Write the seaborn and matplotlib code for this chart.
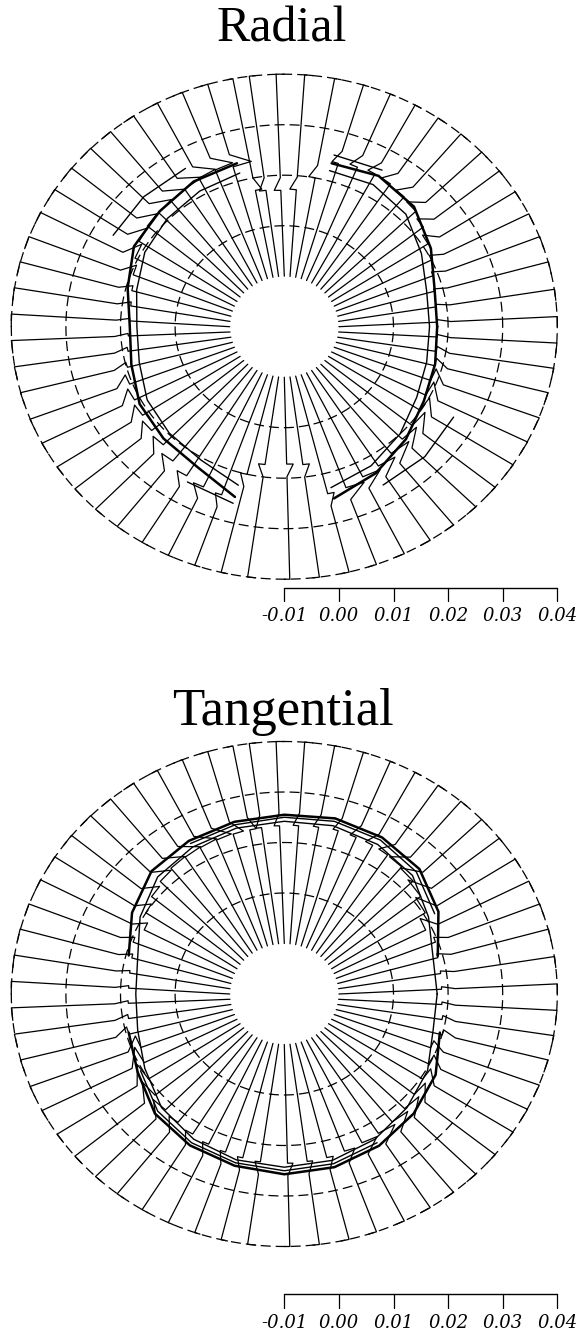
import numpy as np
import pandas as pd
import matplotlib
matplotlib.use("Agg")
import matplotlib.pyplot as plt
import seaborn as sns

sns.set_theme(style="white")
plt.rcParams["font.family"] = ["Liberation Serif", "DejaVu Serif"]
plt.rcParams["text.color"] = "black"

# ---------------- data ----------------
# one measuring line every 6 degrees, counter-clockwise from 3 o'clock
SPOKE_DEG = list(range(0, 360, 6))
RING_STRAIN = [0.01, 0.02, 0.03, 0.04]          # dashed reference circles
SPOKE_FROM, SPOKE_TO = 0.00, 0.04                # radial extent of each line
SCALE_TICKS = [-0.01, 0.00, 0.01, 0.02, 0.03, 0.04]
SCALE_LABELS = ["-0.01", "0.00", "0.01", "0.02", "0.03", "0.04"]
ARC_DEG = list(range(0, 361, 15))

# Radial strain: radius of the step on each line, step size and lean (x1e-3)
RAD_STEP_R = [0.0180, 0.0181, 0.0183, 0.0190, 0.0200, 0.0210, 0.0222, 0.0232, 0.0238, 0.0243,
              0.0245, 0.0243, 0.0238, 0.0200, 0.0172, 0.0170, 0.0172, 0.0175, 0.0230, 0.0235,
              0.0233, 0.0228, 0.0224, 0.0222, 0.0220, 0.0215, 0.0205, 0.0195, 0.0188, 0.0184,
              0.0183, 0.0186, 0.0190, 0.0198, 0.0205, 0.0210, 0.0213, 0.0218, 0.0222, 0.0235,
              0.0245, 0.0250, 0.0252, 0.0200, 0.0175, 0.0172, 0.0175, 0.0240, 0.0238, 0.0230,
              0.0225, 0.0218, 0.0210, 0.0205, 0.0198, 0.0192, 0.0188, 0.0185, 0.0182, 0.0180]
RAD_STEP = [0.5, 0.5, 0.5, 0.8, 1.0, 2.0, 2.0, 2.5, 2.0, 2.0,
            1.5, 1.5, 1.2, 1.2, 1.2, 1.2, 1.2, 1.2, 3.5, 3.5,
            3.5, 4.0, 3.5, 3.5, 3.0, 3.0, 3.0, 2.0, 1.0, 0.8,
            0.5, 0.5, 0.8, 1.0, 2.0, 2.5, 2.5, 2.5, 2.5, 2.5,
            2.0, 2.0, 1.2, 1.2, 1.2, 1.2, 1.2, 1.2, 3.5, 3.5,
            3.5, 4.0, 3.5, 3.5, 3.0, 3.0, 2.5, 1.5, 1.0, 0.5]
RAD_LEAN = [2.0, 2.2, 2.5, 2.5, 2.2, 2.0, 1.8, 1.5, 1.5, 1.5,
            1.2, 1.0, 1.0, 1.2, 1.5, 1.5, 1.2, -1.0, -1.5, -1.8,
            -2.0, -2.2, -2.2, -2.5, -2.5, -2.5, -2.5, -2.5, -2.5, -2.5,
            -2.5, -2.5, -2.5, -2.5, -2.2, -2.2, -2.0, -1.8, -1.5, -1.5,
            -1.2, -1.0, -1.0, -1.2, -1.5, 1.0, 1.2, 1.5, 1.5, 1.8,
            2.0, 2.0, 2.2, 2.2, 2.5, 2.5, 2.5, 2.5, 2.2, 2.0]
RAD_ARC_A = [0.0180, 0.0185, 0.0210, 0.0236, 0.0245, 0.0235, np.nan, 0.0235, 0.0232, 0.0223,
             0.0218, 0.0197, 0.0183, 0.0190, 0.0206, 0.0213, 0.0220, 0.0249, np.nan, 0.0252,
             0.0235, 0.0215, 0.0195, 0.0186, 0.0180]
RAD_ARC_B = [0.0166, 0.0170, 0.0190, 0.0215, 0.0225, 0.0220, np.nan, 0.0215, 0.0210, 0.0203,
             0.0195, 0.0180, 0.0170, 0.0175, 0.0190, 0.0198, 0.0205, 0.0225, np.nan, 0.0230,
             0.0218, 0.0200, 0.0180, 0.0170, 0.0166]
RAD_ARC_C = [np.nan, np.nan, np.nan, np.nan, 0.0258, 0.0252, np.nan, np.nan, 0.0262, 0.0264,
             0.0262, np.nan, np.nan, np.nan, np.nan, np.nan, 0.0255, 0.0262, np.nan, np.nan,
             0.0262, 0.0264, 0.0258, np.nan, np.nan]

# Tangential strain
TAN_STEP_R = [0.0188, 0.0189, 0.0190, 0.0195, 0.0188, 0.0204, 0.0216, 0.0225, 0.0231, 0.0234,
              0.0236, 0.0237, 0.0238, 0.0236, 0.0234, 0.0233, 0.0232, 0.0231, 0.0230, 0.0229,
              0.0228, 0.0226, 0.0224, 0.0218, 0.0210, 0.0200, 0.0186, 0.0195, 0.0188, 0.0186,
              0.0185, 0.0186, 0.0189, 0.0195, 0.0183, 0.0190, 0.0200, 0.0210, 0.0216, 0.0220,
              0.0224, 0.0228, 0.0231, 0.0233, 0.0235, 0.0235, 0.0234, 0.0233, 0.0230, 0.0227,
              0.0225, 0.0221, 0.0216, 0.0210, 0.0204, 0.0198, 0.0188, 0.0200, 0.0193, 0.0189]
TAN_STEP = [0.5, 0.5, 0.8, 1.0, 2.5, 3.5, 4.0, 3.5, 3.0, 2.0,
            1.5, 1.2, 1.0, 1.0, 1.0, 1.0, 1.0, 1.2, 2.0, 3.0,
            3.5, 3.5, 3.5, 3.0, 2.5, 2.0, 1.5, 1.0, 0.8, 0.5,
            0.5, 0.5, 0.8, 1.5, 2.5, 3.5, 3.5, 3.5, 3.0, 2.0,
            1.5, 1.2, 1.0, 1.0, 1.0, 1.0, 1.0, 1.2, 2.0, 3.0,
            3.5, 3.5, 3.5, 3.0, 2.5, 2.0, 1.5, 1.0, 0.8, 0.5]
TAN_LEAN = [2.0, 2.2, 2.5, 2.5, 2.2, 2.0, 1.8, 1.5, 1.5, 1.5,
            1.2, 1.0, 1.0, 1.2, 1.5, 1.5, 1.2, -1.0, -1.5, -1.8,
            -2.0, -2.2, -2.2, -2.5, -2.5, -2.5, -2.5, -2.5, -2.5, -2.5,
            -2.5, -2.5, -2.5, -2.5, -2.2, -2.2, -2.0, -1.8, -1.5, -1.5,
            -1.2, -1.0, -1.0, -1.2, -1.5, 1.0, 1.2, 1.5, 1.5, 1.8,
            2.0, 2.0, 2.2, 2.2, 2.5, 2.5, 2.5, 2.5, 2.2, 2.0]
TAN_ARC_A = [np.nan, 0.0191, 0.0226, 0.0250, 0.0258, 0.0260, 0.0255, 0.0253, 0.0250, 0.0244,
             0.0222, 0.0195, np.nan, 0.0195, 0.0210, 0.0235, 0.0246, 0.0252, 0.0257, 0.0255,
             0.0247, 0.0235, 0.0220, 0.0195, np.nan]
TAN_ARC_B = [0.0180, 0.0182, 0.0205, 0.0232, 0.0242, 0.0245, 0.0242, 0.0240, 0.0236, 0.0228,
             0.0205, 0.0178, 0.0172, 0.0178, 0.0195, 0.0218, 0.0232, 0.0240, 0.0243, 0.0241,
             0.0232, 0.0218, 0.0203, 0.0182, 0.0180]
TAN_ARC_C = [np.nan, np.nan, 0.0218, 0.0242, 0.0252, 0.0254, 0.0250, 0.0247, 0.0244, np.nan,
             np.nan, np.nan, np.nan, np.nan, 0.0204, 0.0228, 0.0240, 0.0246, 0.0250, 0.0248,
             0.0240, np.nan, np.nan, np.nan, np.nan]

# ---------------- geometry helpers ----------------
W, H, DPI = 579, 1342, 100
PX_X, PX_Y = 5460.0, 5050.0      # pixels per strain unit (horizontal / vertical)
CENTRE = -0.01                    # strain value at the rosette centre


def to_xy(strain, tang, deg):
    """Polar (strain radius, tangential offset) -> axes data coordinates."""
    th = np.deg2rad(deg)
    rr = np.asarray(strain) - CENTRE
    tt = np.asarray(tang)
    return rr * np.cos(th) - tt * np.sin(th), rr * np.sin(th) + tt * np.cos(th)


def spoke_frame(step_r, step, lean):
    rows = []
    span = SPOKE_TO - SPOKE_FROM
    for k, deg in enumerate(SPOKE_DEG):
        sr, st, ln = step_r[k], step[k] * 1e-3, lean[k] * 1e-3
        sgn = 1.0 if ln >= 0 else -1.0
        r = [SPOKE_FROM, sr, sr, sr + 0.0025, SPOKE_TO, SPOKE_TO]
        t = [0.0, ln * (sr - SPOKE_FROM) / span, ln * (sr - SPOKE_FROM) / span + sgn * st,
             ln * (sr + 0.0025 - SPOKE_FROM) / span, ln, 0.0]
        x, y = to_xy(r, t, deg)
        for j in range(len(r)):
            rows.append({"line": k, "order": j, "x": x[j], "y": y[j]})
    return pd.DataFrame(rows)


def draw_arc(ax, vals, lw):
    vals = np.array(vals, dtype=float)
    x, y = to_xy(vals, np.zeros(len(vals)), np.array(ARC_DEG, dtype=float))
    ax.plot(x, y, color="black", lw=lw, solid_capstyle="round")


def draw_rosette(ax, step_r, step, lean, arcs):
    ring_t = np.linspace(0, 360, 721)
    for s in RING_STRAIN:
        x, y = to_xy(np.full_like(ring_t, s), np.zeros_like(ring_t), ring_t)
        ax.plot(x, y, color="black", lw=0.9, dashes=(8, 4))
    df = spoke_frame(step_r, step, lean)
    sns.lineplot(data=df, x="x", y="y", units="line", estimator=None, sort=False,
                 color="black", lw=0.9, ax=ax, legend=False)
    for vals, lw in arcs:
        draw_arc(ax, vals, lw)


def draw_scale(ax, ybar, tick_len, ylab):
    xs = [v - CENTRE for v in SCALE_TICKS]
    ax.plot([xs[0], xs[-1]], [ybar, ybar], color="black", lw=1.0)
    for xv in xs:
        ax.plot([xv, xv], [ybar, ybar - tick_len], color="black", lw=0.9)
    for xv, lab in zip(xs, SCALE_LABELS):
        ax.text(xv, ylab, lab, ha="center", va="center", fontsize=13,
                style="italic", family=["DejaVu Serif"], color="black")


def make_axes(fig, cx, cy, top_px, bot_px):
    ax = fig.add_axes([0, 1 - bot_px / H, 1, (bot_px - top_px) / H])
    ax.set_xlim(-cx / PX_X, (W - cx) / PX_X)
    ax.set_ylim((cy - bot_px) / PX_Y, (cy - top_px) / PX_Y)
    ax.set_axis_off()
    return ax


fig = plt.figure(figsize=(W / DPI, H / DPI), dpi=DPI)
fig.patch.set_facecolor("white")

ax1 = make_axes(fig, 284.3, 326.7, 55, 640)
draw_rosette(ax1, RAD_STEP_R, RAD_STEP, RAD_LEAN,
             [(RAD_ARC_A, 1.8), (RAD_ARC_B, 1.0), (RAD_ARC_C, 1.0)])
draw_scale(ax1, (326.7 - 588.5) / PX_Y, 13 / PX_Y, (326.7 - 616) / PX_Y)
fig.text(281.5 / W, 1 - 42 / H, "Radial", ha="center", va="baseline", fontsize=36,
         color="black")

ax2 = make_axes(fig, 284.3, 994.0, 735, 1342)
draw_rosette(ax2, TAN_STEP_R, TAN_STEP, TAN_LEAN,
             [(TAN_ARC_A, 1.8), (TAN_ARC_B, 1.0), (TAN_ARC_C, 1.0)])
draw_scale(ax2, (994 - 1294) / PX_Y, 14 / PX_Y, (994 - 1323) / PX_Y)
fig.text(283 / W, 1 - 725 / H, "Tangential", ha="center", va="baseline", fontsize=38,
         color="black")

fig.savefig("out.png", dpi=DPI, facecolor="white")
